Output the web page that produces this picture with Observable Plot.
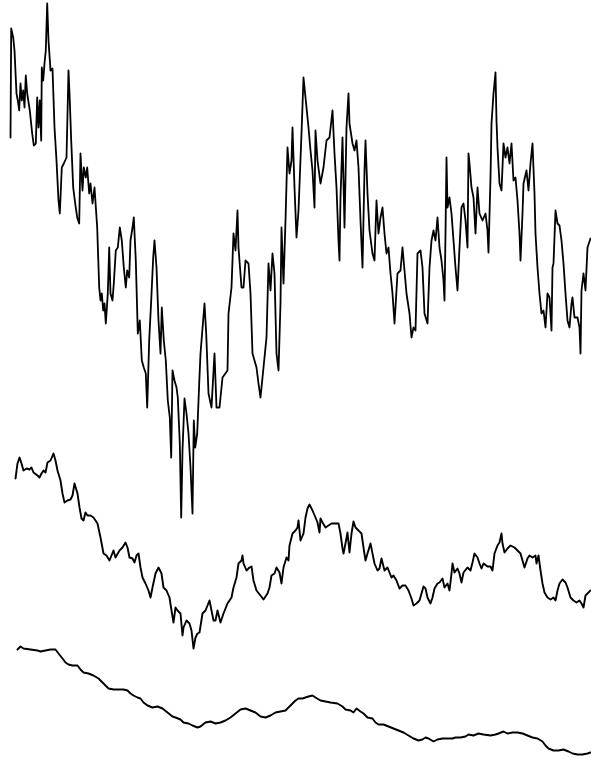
<!DOCTYPE html>
<html>
<head>
<meta charset="utf-8">
<script src="https://cdn.jsdelivr.net/npm/d3@7"></script>
<script src="https://cdn.jsdelivr.net/npm/@observablehq/plot@0.6"></script>
<style>
  html, body { margin: 0; padding: 0; background: #fff; }
  #chart svg { display: block; }
</style>
</head>
<body>
<div id="chart"></div>
<script>
// Three traces of the same walk at decreasing resolution: [step, depth]
// (depth grows downward on the page).
const fineWalk = [
  [10,137],[10.7,28],[12.7,37],[14,50],[16,93],[17.3,100],[18.7,110],[20,83],[21.3,100],[22.7,90],
  [24,107],[25.3,75],[26.7,93],[29.3,110],[31.7,133],[33.3,145],[35.3,143],[36.7,97],[38,127],[39.3,100],
  [40.7,140],[41.3,67],[42.7,80],[44,63],[45.3,50],[46.7,3],[48,40],[50,70],[52,68],[54,127],
  [56,160],[58,200],[59.3,213],[61.3,167],[63.3,163],[66,157],[68,70],[69.3,100],[70.7,140],[72.7,187],
  [74.7,203],[76.7,217],[78.7,223],[80,153],[82,190],[83.3,167],[85.3,177],[86.7,167],[88.7,193],[90,183],
  [92,203],[94,187],[96.7,227],[98.7,287],[100,300],[101.3,293],[102.7,310],[104,303],[105.3,323],[107.3,293],
  [108.7,247],[110,293],[112,300],[113.3,283],[115.3,250],[117.3,247],[119.3,227],[121.3,240],[123.3,267],[125.3,287],
  [126.7,270],[128.7,277],[130,240],[132,227],[133.3,217],[135.3,260],[137.3,333],[139.3,320],[141.3,360],[143.3,367],
  [145.3,373],[146.7,407],[148.7,340],[150.7,300],[152.7,257],[154,240],[156,267],[158,320],[160,353],[161.3,307],
  [163.3,340],[165.3,360],[167.3,400],[169.3,417],[170.7,457],[172,370],[174,380],[176,387],[177.3,397],[179.3,443],
  [180.7,517],[182,450],[184,398],[186,413],[188,433],[190,467],[192,513],[193.3,420],[194.7,447],[196.7,433],
  [198.7,383],[200,353],[204,303],[205.7,333],[208,393],[211,407],[214,353],[216,407],[219,407],[222,377],
  [227,370],[228,313],[231,287],[233,233],[235,250],[237,210],[238,247],[241,287],[243,287],[245,260],
  [248,263],[250,293],[252,353],[256,367],[258,383],[260,397],[263,367],[266,337],[268,263],[270,290],
  [272,253],[274,273],[276,353],[278,370],[280,303],[281,227],[283,283],[285,220],[287,147],[289,173],
  [291,160],[292,127],[294,187],[296,237],[298,210],[301,133],[303,77],[305,97],[308,127],[310,150],
  [312,170],[314,207],[315,130],[317,160],[320,183],[323,167],[326,140],[329,137],[332,110],[334,153],
  [336,187],[338,240],[339,260],[340,197],[342,137],[344,227],[346,127],[348,93],[349,123],[352,143],
  [354,150],[356,140],[358,167],[360,220],[362,267],[364,170],[365,140],[367,193],[369,230],[372,253],
  [374,260],[376,200],[378,233],[380,217],[382,207],[384,233],[386,253],[388,247],[390,273],[392,293],
  [394,323],[397,273],[400,270],[402,247],[404,270],[406,293],[409,313],[411,337],[413,327],[415,330],
  [417,253],[420,250],[422,267],[424,313],[427,323],[429,267],[431,240],[433,230],[435,240],[437,217],
  [439,247],[441,260],[443,280],[444,300],[445,233],[446,157],[447,207],[449,197],[451,213],[453,240],
  [455,267],[457,290],[459,247],[461,207],[463,203],[465,220],[467,247],[468,153],[469,163],[471,187],
  [473,197],[475,233],[477,187],[479,213],[482,220],[485,213],[487,230],[488,252],[490,177],[491,123],
  [493,93],[495,72],[496,120],[497,147],[499,183],[501,190],[503,143],[505,157],[507,147],[509,163],
  [511,143],[513,180],[515,177],[517,200],[519,233],[520,260],[522,213],[523,183],[526,170],[528,190],
  [530,163],[532,143],[534,193],[535,233],[537,267],[539,293],[541,313],[543,310],[545,327],[547,293],
  [549,297],[551,330],[552,267],[553,263],[555,210],[557,223],[559,225],[561,240],[563,263],[565,293],
  [567,320],[569,327],[571,303],[572,297],[574,317],[577,317],[579,327],[580,353],[581,290],[583,273],
  [585,290],[587,247],[590,238]
];

const mediumWalk = [
  [15,478],[17,463],[19,457],[21,463],[23,470],[26,468],[29,469],[31,467],[33,472],[37,475],
  [39,477],[41,473],[43,470],[45,472],[47,462],[50,460],[53,453],[55,460],[57,470],[60,480],
  [62,493],[64,502],[67,500],[70,499],[72,495],[74,483],[77,493],[79,507],[81,518],[83,520],
  [85,512],[87,515],[90,515],[93,517],[97,523],[100,537],[103,553],[106,555],[109,560],[111,555],
  [113,550],[115,557],[119,550],[122,547],[125,542],[127,547],[129,557],[132,558],[134,562],[136,555],
  [138,553],[140,567],[142,577],[145,583],[148,590],[150,597],[152,587],[155,573],[158,567],[161,573],
  [163,587],[166,590],[169,597],[171,610],[173,622],[175,607],[177,610],[180,613],[182,635],[183,627],
  [186,620],[189,623],[191,630],[193,648],[195,637],[197,633],[199,632],[202,613],[205,610],[209,600],
  [211,610],[213,620],[215,620],[217,610],[220,622],[223,613],[227,603],[231,597],[233,587],[236,577],
  [238,563],[241,560],[242,555],[243,563],[246,570],[249,567],[251,566],[253,580],[256,590],[260,595],
  [263,599],[267,593],[269,587],[271,575],[274,573],[276,567],[279,572],[281,583],[283,567],[286,557],
  [288,560],[289,545],[292,533],[295,530],[297,527],[298,520],[300,540],[303,533],[305,517],[307,508],
  [309,504],[312,510],[315,517],[317,522],[319,532],[320,518],[322,522],[325,527],[328,525],[331,523],
  [335,523],[338,523],[340,533],[342,548],[343,553],[345,543],[347,532],[349,552],[351,533],[353,521],
  [355,527],[358,530],[361,533],[363,547],[365,560],[367,553],[370,543],[372,553],[374,563],[377,570],
  [379,568],[381,558],[384,570],[387,567],[389,572],[391,577],[393,575],[396,580],[399,588],[402,585],
  [405,585],[408,590],[411,598],[413,605],[416,603],[419,600],[421,593],[423,586],[425,588],[427,597],
  [430,603],[432,597],[434,588],[437,583],[439,582],[442,578],[444,587],[447,583],[449,590],[451,573],
  [452,563],[454,572],[457,568],[459,573],[461,582],[463,572],[467,567],[470,570],[472,562],[474,553],
  [477,557],[479,563],[481,568],[483,563],[487,566],[490,566],[492,570],[494,553],[497,545],[499,542],
  [501,533],[502,543],[504,552],[507,548],[510,545],[514,547],[517,550],[520,553],[522,560],[524,567],
  [527,558],[529,555],[532,557],[535,555],[536,563],[538,555],[540,570],[542,583],[544,592],[547,597],
  [550,599],[553,597],[555,600],[557,590],[559,583],[562,579],[565,582],[567,587],[570,597],[573,600],
  [576,602],[579,600],[581,603],[583,607],[585,595],[588,592],[590,590]
];

const coarseWalk = [
  [17,649],[20,646],[23,648],[30,649],[37,650],[40,651],[45,650],[50,649],[55,649],[58,653],
  [62,658],[65,662],[68,664],[72,665],[77,665],[80,669],[83,672],[88,673],[93,675],[98,678],
  [103,683],[108,688],[113,689],[118,689],[123,689],[127,690],[130,693],[133,695],[137,697],[140,698],
  [143,702],[147,705],[152,707],[157,706],[162,708],[167,712],[172,716],[175,717],[180,719],[183,722],
  [188,723],[192,725],[197,727],[200,726],[205,722],[210,721],[215,723],[220,722],[225,720],[230,717],
  [235,713],[240,709],[245,708],[250,710],[255,712],[260,716],[265,717],[270,715],[275,712],[280,711],
  [285,710],[288,707],[292,703],[295,700],[298,698],[302,698],[305,697],[308,696],[312,695],[315,697],
  [320,700],[325,701],[330,702],[337,703],[342,706],[345,709],[350,710],[353,712],[356,708],[360,711],
  [363,713],[367,717],[372,718],[375,722],[378,724],[383,724],[388,726],[393,728],[398,730],[403,732],
  [408,735],[413,738],[418,740],[422,739],[425,737],[428,738],[433,741],[437,739],[442,738],[447,738],
  [452,738],[455,737],[460,737],[465,736],[468,734],[473,735],[478,733],[483,734],[490,735],[495,734],
  [498,733],[503,731],[507,733],[512,732],[517,732],[522,733],[527,735],[532,737],[537,738],[542,741],
  [545,745],[548,748],[553,750],[558,750],[563,749],[568,751],[572,753],[577,754],[582,754],[587,753],
  [590,752]
];

const chart = Plot.plot({
  width: 591,
  height: 759,
  margin: 0,
  style: { background: "#fff" },
  x: { axis: null, domain: [0, 591] },
  y: { axis: null, domain: [0, 759], reverse: true },
  marks: [
    Plot.line(fineWalk, { x: d => d[0], y: d => d[1], stroke: "#000", strokeWidth: 1.8, strokeLinejoin: "round" }),
    Plot.line(mediumWalk, { x: d => d[0], y: d => d[1], stroke: "#000", strokeWidth: 1.9, strokeLinejoin: "round" }),
    Plot.line(coarseWalk, { x: d => d[0], y: d => d[1], stroke: "#000", strokeWidth: 1.9, strokeLinejoin: "round" })
  ]
});
document.getElementById("chart").appendChild(chart);
</script>
</body>
</html>
